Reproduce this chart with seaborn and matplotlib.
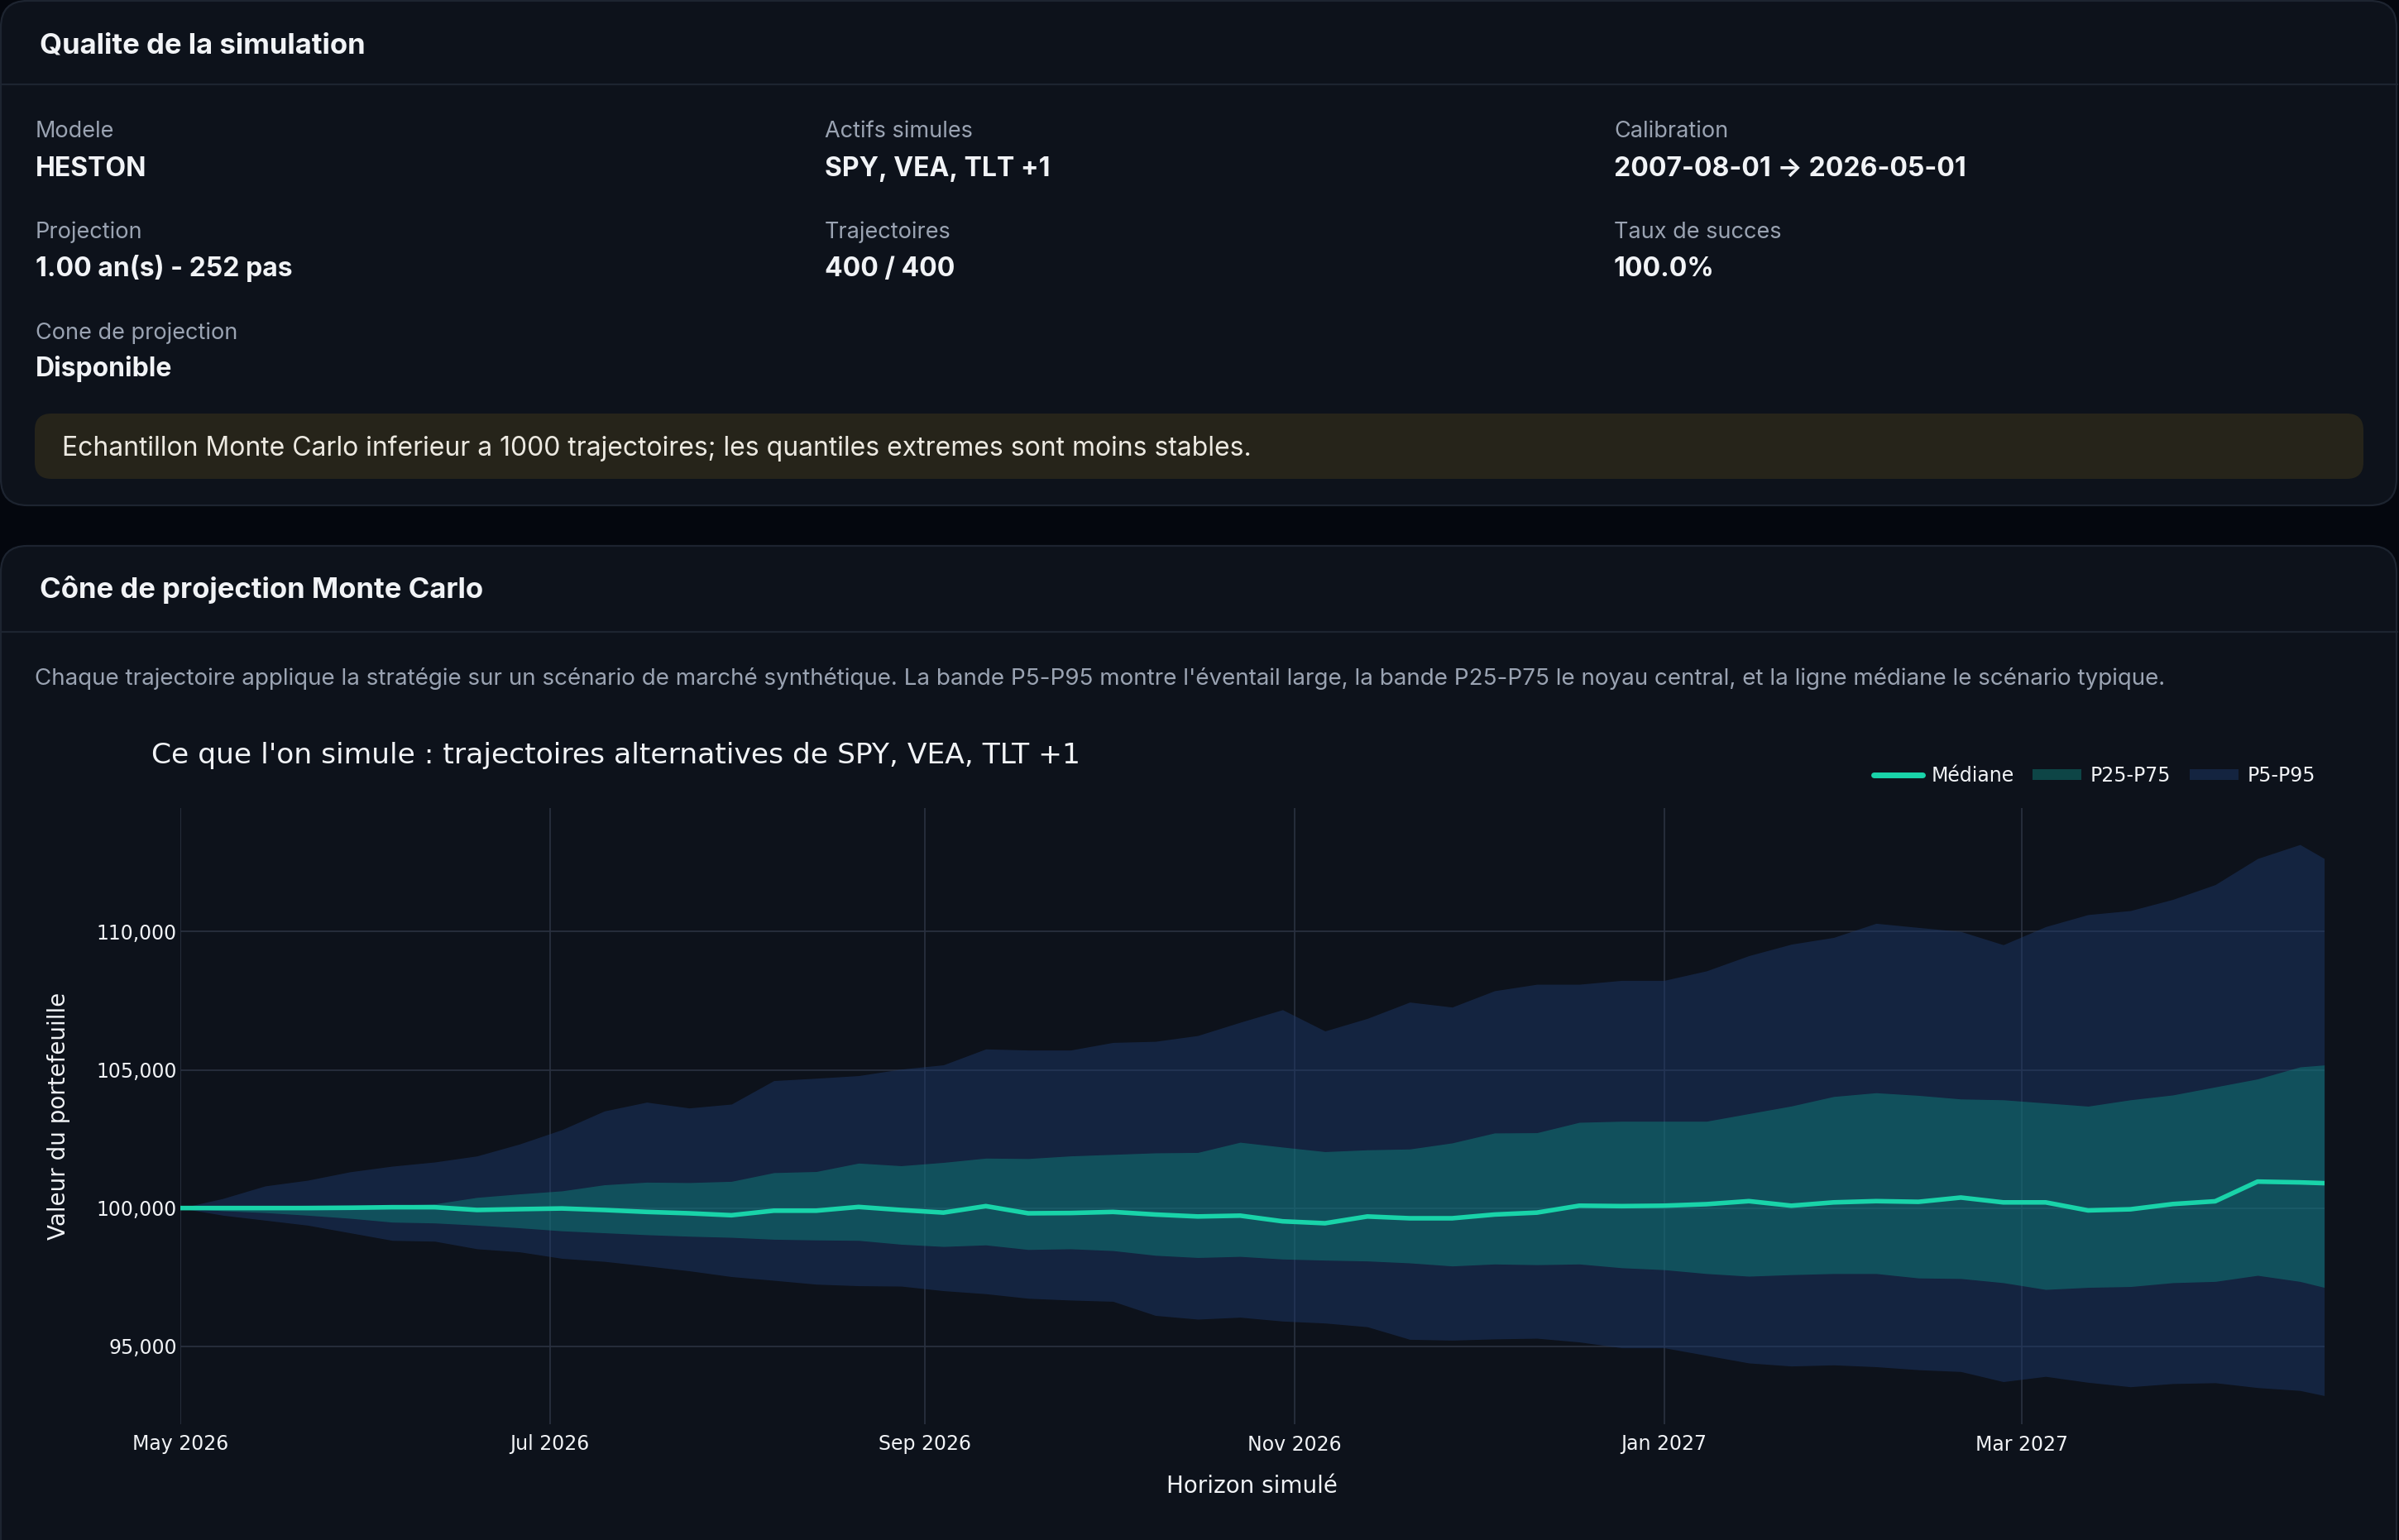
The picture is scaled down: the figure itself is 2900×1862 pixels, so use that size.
import matplotlib
matplotlib.use("Agg")
import matplotlib.pyplot as plt
import matplotlib.dates as mdates
from matplotlib.patches import FancyBboxPatch, Patch
from matplotlib.lines import Line2D
from matplotlib.ticker import FixedLocator, StrMethodFormatter
import numpy as np
import pandas as pd
import seaborn as sns

# ----------------------------------------------------------------------
# Data (one point per week + last step)
# ----------------------------------------------------------------------
dates = list(pd.date_range("2026-05-01", "2027-04-16", freq="7D")) + [pd.Timestamp("2027-04-20")]

p95 = [100000, 100344, 100800, 101005, 101310, 101515, 101665, 101885, 102315, 102835, 103510,
       103830, 103620, 103760, 104610, 104695, 104790, 105025, 105180, 105755, 105715,
       105715, 105990, 106030, 106240, 106720, 107175, 106405, 106860, 107450, 107270, 107860,
       108095, 108095, 108235, 108235, 108580, 109130, 109545, 109790, 110300, 110150,
       110005, 109525, 110180, 110615, 110760, 111165, 111700, 112645, 113150, 112645]
p75 = [100000, 100070, 100080, 100100, 100110, 100100, 100150, 100385, 100510, 100620, 100840,
       100935, 100920, 100965, 101280, 101320, 101625, 101530, 101650, 101805, 101790,
       101885, 101940, 101995, 102010, 102380, 102205, 102040, 102105, 102135, 102355, 102715,
       102725, 103100, 103140, 103140, 103140, 103415, 103690, 104035, 104170, 104075,
       103945, 103915, 103800, 103685, 103915, 104090, 104380, 104670, 105105, 105175]
median = [100000, 100000, 100000, 100000, 100010, 100030, 100030, 99930, 99960, 99985, 99930,
          99860, 99810, 99740, 99905, 99905, 100040, 99930, 99835, 100070, 99810,
          99820, 99860, 99765, 99695, 99725, 99520, 99450, 99695, 99630, 99630, 99765,
          99835, 100085, 100070, 100085, 100140, 100250, 100085, 100205, 100250, 100225,
          100380, 100205, 100205, 99915, 99955, 100145, 100245, 100957, 100928, 100900]
p25 = [100000, 99900, 99835, 99740, 99630, 99490, 99460, 99380, 99285, 99175, 99105,
       99035, 98980, 98940, 98870, 98845, 98830, 98690, 98610, 98665, 98500,
       98525, 98460, 98290, 98210, 98250, 98155, 98115, 98085, 98015, 97905, 97975,
       97950, 97975, 97840, 97770, 97630, 97535, 97590, 97630, 97630, 97470,
       97450, 97300, 97055, 97130, 97160, 97300, 97345, 97565, 97345, 97130]
p5 = [100000, 99740, 99560, 99380, 99105, 98830, 98800, 98525, 98415, 98180, 98070,
      97905, 97730, 97520, 97385, 97245, 97190, 97175, 97010, 96900, 96735,
      96670, 96625, 96115, 95980, 96050, 95910, 95840, 95705, 95250, 95220, 95265,
      95290, 95155, 94945, 94945, 94670, 94395, 94285, 94325, 94260, 94150,
      94085, 93720, 93910, 93695, 93535, 93650, 93680, 93505, 93400, 93215]

y_ticks = [95000, 100000, 105000, 110000]

info_items = [
    ("Modele", "HESTON"),
    ("Actifs simules", "SPY, VEA, TLT +1"),
    ("Calibration", "2007-08-01 \u2192 2026-05-01"),
    ("Projection", "1.00 an(s) - 252 pas"),
    ("Trajectoires", "400 / 400"),
    ("Taux de succes", "100.0%"),
    ("Cone de projection", "Disponible"),
]
warning = "Echantillon Monte Carlo inferieur a 1000 trajectoires; les quantiles extremes sont moins stables."
description = ("Chaque trajectoire applique la stratégie sur un scénario de marché synthétique. "
               "La bande P5-P95 montre l'éventail large, la bande P25-P75 le noyau central, "
               "et la ligne médiane le scénario typique.")

df = pd.DataFrame({"date": dates, "p5": p5, "p25": p25, "median": median, "p75": p75, "p95": p95})

# ----------------------------------------------------------------------
# Style
# ----------------------------------------------------------------------
PAGE_BG = "#04070e"
CARD_BG = "#0d121b"
CARD_EDGE = "#1d2430"
GRID = "#2a3241"
TXT = "#f1f3f6"
MUTED = "#9aa3b2"
MEDIAN_C = "#19d3a9"

sns.set_theme(style="dark", rc={"axes.facecolor": CARD_BG, "figure.facecolor": PAGE_BG})
plt.rcParams["font.family"] = ["DejaVu Sans"]
CARD_FONT = ["Inter", "DejaVu Sans"]

W, H = 2900, 1862
fig = plt.figure(figsize=(W / 100, H / 100), dpi=100)
fig.patch.set_facecolor(PAGE_BG)


def fx(x):
    return x / W


def fy(y):
    return 1 - y / H


def card(x0, y0, x1, y1):
    box = FancyBboxPatch((x0 / 100, (H - y1) / 100), (x1 - x0) / 100, (y1 - y0) / 100,
                         boxstyle="round,pad=0,rounding_size=0.32",
                         transform=fig.dpi_scale_trans, facecolor=CARD_BG,
                         edgecolor=CARD_EDGE, linewidth=1.6, zorder=0)
    fig.add_artist(box)


def hline(y, x0=2, x1=W - 2):
    fig.add_artist(Line2D([fx(x0), fx(x1)], [fy(y), fy(y)], color=CARD_EDGE, lw=1.6))


def ctext(x, y, s, size, color=TXT, weight="normal"):
    fig.text(fx(x), fy(y), s, fontsize=size, color=color, fontweight=weight,
             family=CARD_FONT, va="baseline", ha="left")


# ----------------------------------------------------------------------
# Card 1 : simulation quality
# ----------------------------------------------------------------------
card(1, 1, W - 3, 611)
hline(102)
ctext(48, 64, "Qualite de la simulation", 25, weight="bold")

col_x = [43, 997, 1951]
row_y = [(166, 213), (288, 334), (410, 455)]
for i, (lab, val) in enumerate(info_items):
    r, c = divmod(i, 3)
    ctext(col_x[c], row_y[r][0], lab, 19.5, color=MUTED)
    ctext(col_x[c], row_y[r][1], val, 23, weight="bold")

warn = FancyBboxPatch((42 / 100, (H - 579) / 100), (2857 - 42) / 100, (579 - 500) / 100,
                      boxstyle="round,pad=0,rounding_size=0.2", transform=fig.dpi_scale_trans,
                      facecolor="#26241a", edgecolor="none", zorder=1)
fig.add_artist(warn)
ctext(75, 551, warning, 23, color="#ece9e1")

# ----------------------------------------------------------------------
# Card 2 : Monte Carlo cone
# ----------------------------------------------------------------------
card(1, 660, W - 3, H + 40)
hline(764)
ctext(48, 723, "Cône de projection Monte Carlo", 25, weight="bold")
ctext(42, 828, description, 20, color=MUTED)

ax = fig.add_axes([fx(218), fy(1722), (2809.6 - 218) / W, (1722 - 977) / H])
ax.set_facecolor(CARD_BG)

ax.fill_between(df["date"], df["p5"], df["p95"], color="#1e3a6e", alpha=0.45, lw=0, zorder=2)
ax.fill_between(df["date"], df["p25"], df["p75"], color="#0d9488", alpha=0.4, lw=0, zorder=3)
sns.lineplot(data=df, x="date", y="median", color=MEDIAN_C, linewidth=4, ax=ax, zorder=4)

ax.set_xlim(df["date"].iloc[0], df["date"].iloc[-1])
ax.set_ylim(92180, 114470)
ax.yaxis.set_major_locator(FixedLocator(y_ticks))
ax.yaxis.set_major_formatter(StrMethodFormatter("{x:,.0f}"))
ax.xaxis.set_major_locator(mdates.MonthLocator(bymonth=[1, 3, 5, 7, 9, 11]))
ax.xaxis.set_major_formatter(mdates.DateFormatter("%b %Y"))

ax.grid(True, color=GRID, linewidth=1.2)
ax.set_axisbelow(True)
for s in ax.spines.values():
    s.set_visible(False)
ax.tick_params(axis="both", length=0, colors=TXT, labelsize=17)
ax.tick_params(axis="x", pad=9)
ax.tick_params(axis="y", pad=3)

ax.set_xlabel("Horizon simulé", fontsize=20, color=TXT)
ax.set_ylabel("Valeur du portefeuille", fontsize=20, color=TXT)
ax.xaxis.set_label_coords(0.5, -0.082)
ax.yaxis.set_label_coords(-0.0514, 0.5)

fig.text(fx(183), fy(923), "Ce que l'on simule : trajectoires alternatives de SPY, VEA, TLT +1",
         fontsize=24.8, color=TXT, va="baseline", ha="left")

handles = [
    Line2D([0], [0], color=MEDIAN_C, lw=5),
    Patch(facecolor="#0d9488", alpha=0.4, edgecolor="none"),
    Patch(facecolor="#1e3a6e", alpha=0.45, edgecolor="none"),
]
ax.legend(handles, ["Médiane", "P25-P75", "P5-P95"], loc="center right",
          bbox_to_anchor=(fx(2799), fy(938)), bbox_transform=fig.transFigure,
          ncol=3, frameon=False, fontsize=17, labelcolor=TXT, handlelength=2.5,
          handleheight=0.5, handletextpad=0.45, columnspacing=0.95, borderpad=0,
          borderaxespad=0)

fig.savefig("out.png", dpi=100, facecolor=PAGE_BG)
